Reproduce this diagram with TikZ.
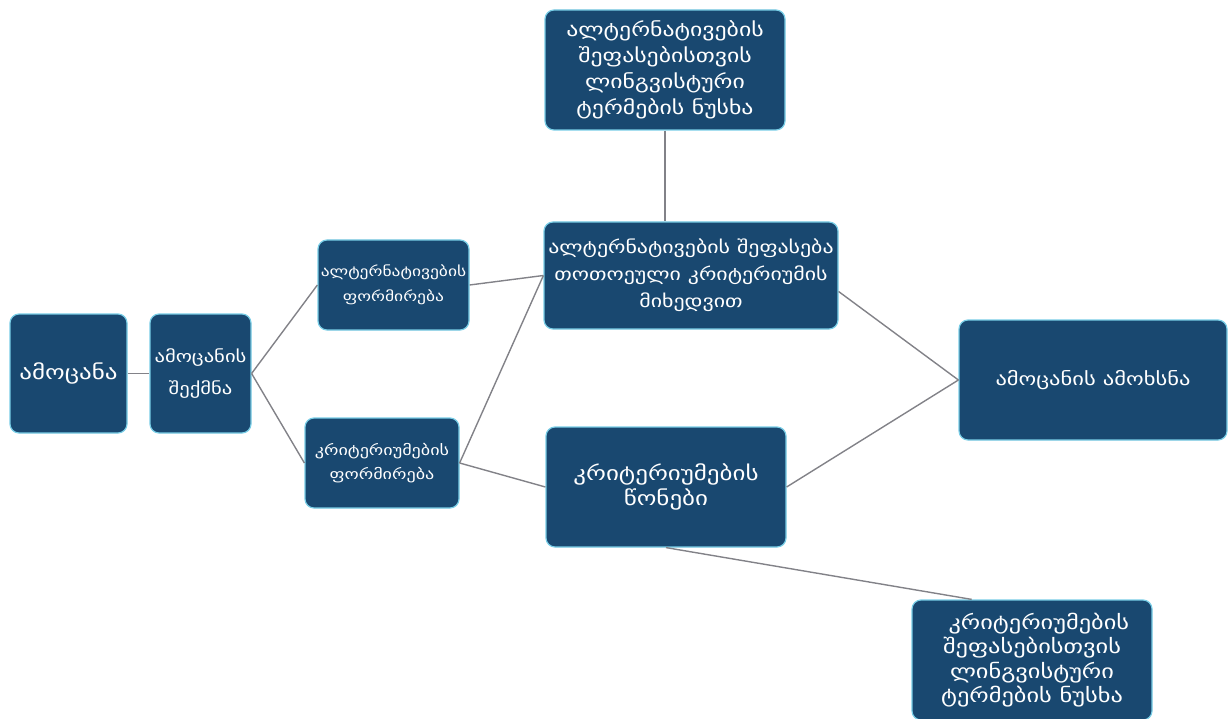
\documentclass[tikz,border=0pt]{standalone}
\usepackage{fontspec}
\newfontfamily\geo[FakeStretch=1.25]{DejaVu Sans}
\usetikzlibrary{calc}
\definecolor{boxfill}{RGB}{25,72,112}
\definecolor{boxedge}{RGB}{120,205,230}
\definecolor{linkgray}{RGB}{130,130,136}
\tikzset{
  box/.style={draw=boxedge, line width=1.2pt, fill=boxfill, rounded corners=9pt,
    text=white, align=center, inner sep=2pt, font=\geo},
  link/.style={draw=linkgray, line width=1.4pt}
}
\begin{document}
\begin{tikzpicture}[x=1pt,y=-1pt]
\useasboundingbox (0,0) rectangle (1228,719);
\node[box, minimum width=117pt, minimum height=119pt, font=\geo\fontsize{20}{24}\selectfont] (n1) at (68.5,373.5) {ამოცანა};
\node[box, minimum width=101pt, minimum height=119pt, font=\geo\fontsize{16.5}{32}\selectfont] (n2) at (200.5,373.5) {ამოცანის\\შექმნა};
\node[box, minimum width=151pt, minimum height=90pt, font=\geo\fontsize{14}{25}\selectfont] (n3) at (393.5,285) {ალტერნატივების\\ფორმირება};
\node[box, minimum width=154pt, minimum height=90pt, font=\geo\fontsize{14.5}{24}\selectfont] (n4) at (382,463) {კრიტერიუმების\\ფორმირება};
\node[box, minimum width=240pt, minimum height=120pt, font=\geo\fontsize{19}{26}\selectfont] (n5) at (665,70) {ალტერნატივების\\შეფასებისთვის\\ლინგვისტური\\ტერმების ნუსხა};
\node[box, minimum width=294pt, minimum height=107pt, font=\geo\fontsize{17.5}{27}\selectfont] (n6) at (691,275.5) {ალტერნატივების შეფასება\\თოთოეული კრიტერიუმის\\მიხედვით};
\node[box, minimum width=240pt, minimum height=120pt, font=\geo\fontsize{20}{25}\selectfont] (n7) at (666,487) {კრიტერიუმების\\წონები};
\node[box, minimum width=268pt, minimum height=120pt, font=\geo\fontsize{18}{24}\selectfont] (n8) at (1093,380) {ამოცანის ამოხსნა};
\node[box, minimum width=240pt, minimum height=120pt, font=\geo\fontsize{19.5}{24.5}\selectfont] (n9) at (1032,660) {\hspace*{0.7em}კრიტერიუმების\\შეფასებისთვის\\ლინგვისტური\\ტერმების ნუსხა};
\coordinate (n9top) at ($(n9.north west)!0.25!(n9.north east)$);
\path[link] (n1.east) -- (n2.east -| n2.west);
\path[link] (n2.east) -- (n3.west);
\path[link] (n2.east) -- (n4.west);
\path[link] (n3.east) -- (n6.west);
\path[link] (n4.east) -- (n6.west);
\path[link] (n4.east) -- (n7.west);
\path[link] (n5.south) -- (n5.south |- n6.north);
\path[link] ([yshift=-16pt]n6.east) -- (n8.west);
\path[link] (n7.east) -- (n8.west);
\path[link] (n7.south) -- (n9top);
\end{tikzpicture}
\end{document}
